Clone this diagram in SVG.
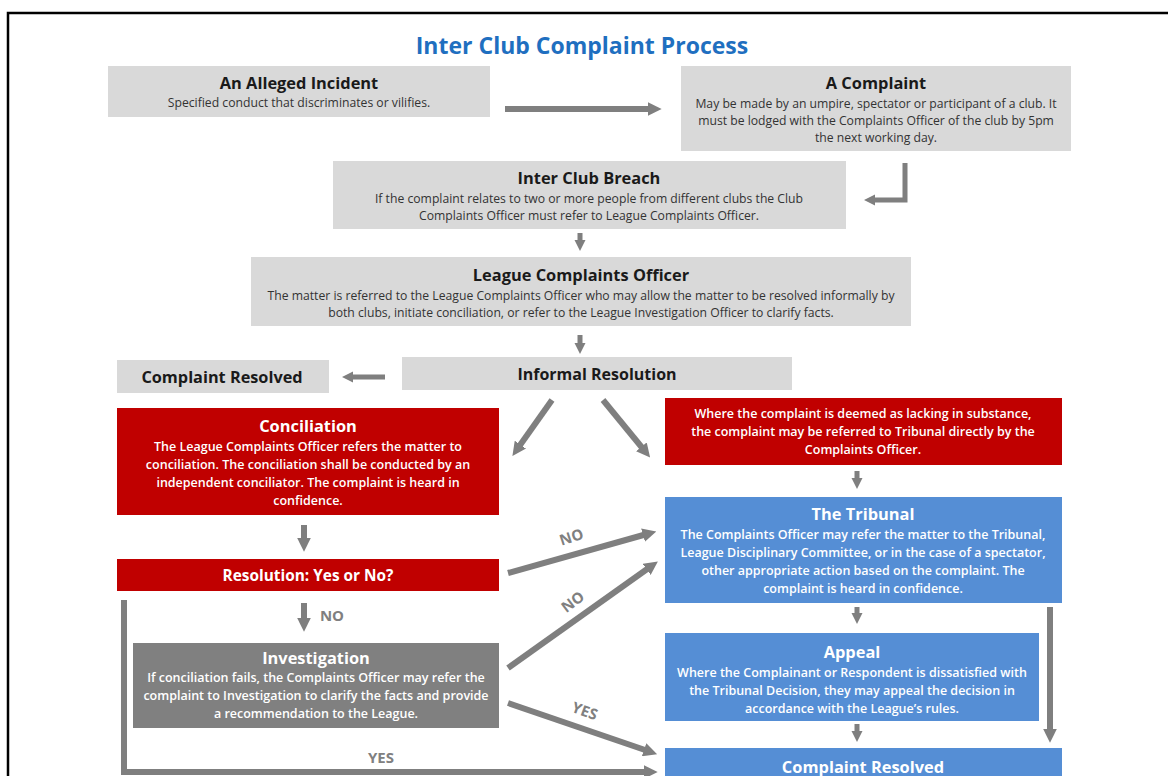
<svg xmlns="http://www.w3.org/2000/svg" width="1168" height="776" viewBox="0 0 1168 776">
<style>
.gb{fill:#d9d9d9}
.rb{fill:#c00000}
.bb{fill:#558ed5}
.db{fill:#808080}
text{font-family:"Open Sans","Liberation Sans",sans-serif;text-anchor:middle}
.h{font-size:16.4px;font-weight:bold;fill:#1a1a1a}
.t{font-size:12.2px;fill:#333}
.hw{font-size:16.4px;font-weight:bold;fill:#fff}
.tw{font-size:12.5px;fill:#fff;font-weight:600}
.lab{font-size:15px;font-weight:bold;fill:#808080}
.c{fill:none;stroke:#7f7f7f;stroke-width:6}
.cs{fill:none;stroke:#7f7f7f;stroke-width:5}
</style>
<defs>
<marker id="ah" viewBox="0 0 10 10" refX="3" refY="5" markerWidth="2.3" markerHeight="2.3" orient="auto" markerUnits="strokeWidth">
<path d="M0,0 L10,5 L0,10 z" fill="#7f7f7f"/>
</marker>
</defs>
<rect width="1168" height="776" fill="#fff"/>
<path d="M8,776 V13 H1168" fill="none" stroke="#000" stroke-width="2.5"/>
<text x="582" y="54" style="font-size:23px;font-weight:bold;fill:#1f6fc0">Inter Club Complaint Process</text>

<g id="connectors">
<path class="c" d="M505,109 H652" marker-end="url(#ah)"/>
<path class="cs" d="M905,163 V200 H872" marker-end="url(#ah)"/>
<path class="cs" d="M580,233 V243" marker-end="url(#ah)"/>
<path class="cs" d="M580,335 V346" marker-end="url(#ah)"/>
<path class="cs" d="M385,377 H350" marker-end="url(#ah)"/>
<path class="c" d="M552,400 L518,448" marker-end="url(#ah)"/>
<path class="c" d="M603,400 L644,450" marker-end="url(#ah)"/>
<path class="cs" d="M857,471 V481" marker-end="url(#ah)"/>
<path class="c" d="M304,525 V542" marker-end="url(#ah)"/>
<path class="c" d="M508,573 L647,534" marker-end="url(#ah)"/>
<path class="c" d="M304,603 V622" marker-end="url(#ah)"/>
<path class="c" d="M508,668 L650,567" marker-end="url(#ah)"/>
<path class="c" d="M508,703 L648,751" marker-end="url(#ah)"/>
<path class="c" d="M124,600 V772 H648" marker-end="url(#ah)"/>
<path class="c" d="M1050,607 V733" marker-end="url(#ah)"/>
<path class="cs" d="M857,607 V616" marker-end="url(#ah)"/>
<path class="cs" d="M857,724 V734" marker-end="url(#ah)"/>
<text class="lab" transform="translate(573,542) rotate(-18)">NO</text>
<text class="lab" x="332" y="621">NO</text>
<text class="lab" transform="translate(576,606) rotate(-37)">NO</text>
<text class="lab" transform="translate(583,716) rotate(20)">YES</text>
<text class="lab" x="381" y="763">YES</text>
</g>

<g id="alleged-incident">
<rect class="gb" x="108" y="66" width="382" height="51"/>
<text class="h" x="299" y="89">An Alleged Incident</text>
<text class="t" x="299" y="107">Specified conduct that discriminates or vilifies.</text>
</g>
<g id="a-complaint">
<rect class="gb" x="681" y="66" width="390" height="85"/>
<text class="h" x="876" y="89">A Complaint</text>
<text class="t" x="876" y="108">May be made by an umpire, spectator or participant of a club. It</text>
<text class="t" x="876" y="125">must be lodged with the Complaints Officer of the club by 5pm</text>
<text class="t" x="876" y="142">the next working day.</text>
</g>
<g id="inter-club-breach">
<rect class="gb" x="333" y="161" width="513" height="68"/>
<text class="h" x="589" y="184">Inter Club Breach</text>
<text class="t" x="589" y="203">If the complaint relates to two or more people from different clubs the Club</text>
<text class="t" x="589" y="220">Complaints Officer must refer to League Complaints Officer.</text>
</g>
<g id="league-complaints-officer">
<rect class="gb" x="251" y="257" width="660" height="69"/>
<text class="h" x="581" y="281">League Complaints Officer</text>
<text class="t" x="581" y="300">The matter is referred to the League Complaints Officer who may allow the matter to be resolved informally by</text>
<text class="t" x="581" y="317">both clubs, initiate conciliation, or refer to the League Investigation Officer to clarify facts.</text>
</g>
<g id="informal-resolution">
<rect class="gb" x="402" y="357" width="390" height="33"/>
<text class="h" x="597" y="380" style="font-size:16px">Informal Resolution</text>
</g>
<g id="complaint-resolved-informal">
<rect class="gb" x="117" y="360" width="212" height="33"/>
<text class="h" x="222" y="383" style="font-size:16.3px">Complaint Resolved</text>
</g>
<g id="conciliation">
<rect class="rb" x="117" y="408" width="382" height="107"/>
<text class="hw" x="308" y="432">Conciliation</text>
<text class="tw" x="308" y="451">The League Complaints Officer refers the matter to</text>
<text class="tw" x="308" y="469">conciliation. The conciliation shall be conducted by an</text>
<text class="tw" x="308" y="487">independent conciliator. The complaint is heard in</text>
<text class="tw" x="308" y="505">confidence.</text>
</g>
<g id="lacking-substance">
<rect class="rb" x="665" y="398" width="397" height="67"/>
<text class="tw" x="863" y="418">Where the complaint is deemed as lacking in substance,</text>
<text class="tw" x="863" y="436">the complaint may be referred to Tribunal directly by the</text>
<text class="tw" x="863" y="454">Complaints Officer.</text>
</g>
<g id="tribunal">
<rect class="bb" x="665" y="497" width="397" height="106"/>
<text class="hw" x="863" y="520">The Tribunal</text>
<text class="tw" x="863" y="539">The Complaints Officer may refer the matter to the Tribunal,</text>
<text class="tw" x="863" y="557">League Disciplinary Committee, or in the case of a spectator,</text>
<text class="tw" x="863" y="575">other appropriate action based on the complaint. The</text>
<text class="tw" x="863" y="593">complaint is heard in confidence.</text>
</g>
<g id="resolution-yes-no">
<rect class="rb" x="117" y="559" width="382" height="32"/>
<text class="hw" x="308" y="581" style="font-size:15.4px">Resolution: Yes or No?</text>
</g>
<g id="investigation">
<rect class="db" x="133" y="643" width="366" height="85"/>
<text class="hw" x="316" y="664">Investigation</text>
<text class="tw" x="316" y="682">If conciliation fails, the Complaints Officer may refer the</text>
<text class="tw" x="316" y="700">complaint to Investigation to clarify the facts and provide</text>
<text class="tw" x="316" y="718">a recommendation to the League.</text>
</g>
<g id="appeal">
<rect class="bb" x="665" y="633" width="374" height="88"/>
<text class="hw" x="852" y="658">Appeal</text>
<text class="tw" x="852" y="677">Where the Complainant or Respondent is dissatisfied with</text>
<text class="tw" x="852" y="695">the Tribunal Decision, they may appeal the decision in</text>
<text class="tw" x="852" y="713">accordance with the League’s rules.</text>
</g>
<g id="complaint-resolved-final">
<rect class="bb" x="665" y="748" width="397" height="30"/>
<text class="hw" x="863" y="773">Complaint Resolved</text>
</g>
</svg>
